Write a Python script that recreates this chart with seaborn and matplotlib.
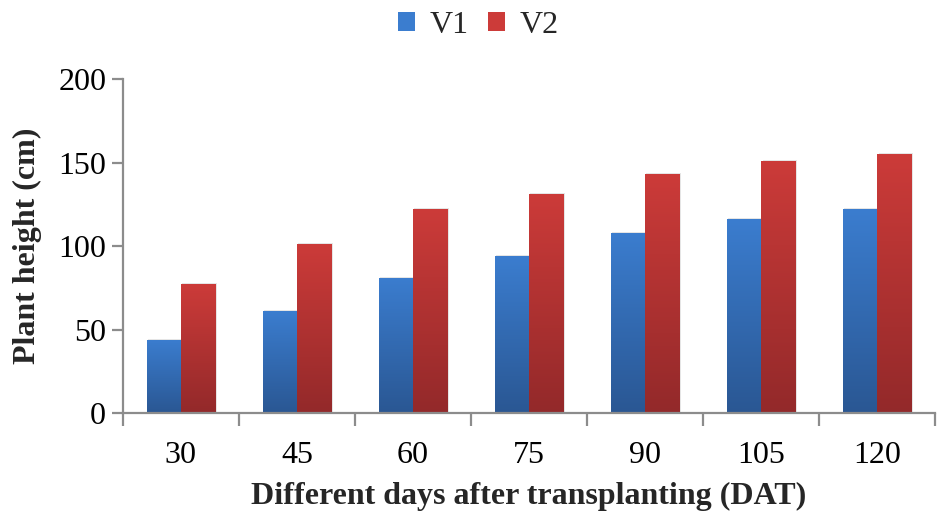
import numpy as np
import pandas as pd
import matplotlib
matplotlib.use("Agg")
import matplotlib.pyplot as plt
import seaborn as sns
from matplotlib.patches import Patch
from matplotlib.colors import LinearSegmentedColormap

days = ["30", "45", "60", "75", "90", "105", "120"]
v1 = [44, 61, 81, 94, 108, 116, 122]
v2 = [77, 101, 122, 131, 143, 151, 155]
series = ["V1", "V2"]
yticks = [0, 50, 100, 150, 200]

df = pd.DataFrame({
    "day": days * 2,
    "height": v1 + v2,
    "variety": ["V1"] * len(days) + ["V2"] * len(days),
})

sns.set_theme(style="white")
plt.rcParams["font.family"] = ["Liberation Serif", "DejaVu Serif"]

top_col = {"V1": "#3b7dcf", "V2": "#cc3b39"}
bot_col = {"V1": "#2a5793", "V2": "#93292a"}
FS = 23

fig = plt.figure(figsize=(9.38, 5.14), dpi=100)
ax = fig.add_axes([0.131, 0.1965, 0.866, 0.6495])

sns.barplot(data=df, x="day", y="height", hue="variety", order=days,
            hue_order=series, palette=top_col, width=0.59, gap=0,
            edgecolor="none", linewidth=0, ax=ax, legend=False)

# vertical gradient fill on each bar
for container, name in zip(ax.containers, series):
    cmap = LinearSegmentedColormap.from_list(name, [bot_col[name], top_col[name]])
    grad = np.linspace(0, 1, 256).reshape(-1, 1)
    for bar in container:
        x0, y0 = bar.get_x(), bar.get_y()
        w, h = bar.get_width(), bar.get_height()
        # soft drop shadow
        ax.add_patch(plt.Rectangle((x0 + 0.012, y0), w, h + 0.6,
                                   facecolor="#000000", alpha=0.10,
                                   edgecolor="none", zorder=1.5))
        bar.set_zorder(2)
        im = ax.imshow(grad, extent=[x0, x0 + w, y0, y0 + h], origin="lower",
                       aspect="auto", cmap=cmap, zorder=2.1)
        im.set_clip_path(bar)

ax.set_xlim(-0.5, len(days) - 0.5)
ax.set_ylim(0, 200)
ax.set_yticks(yticks)
ax.set_yticklabels([str(t) for t in yticks], fontsize=FS)
ax.set_xticks(range(len(days)))
ax.set_xticklabels(days, fontsize=FS)
ax.set_xticks(np.arange(-0.5, len(days), 1.0), minor=True)

spine_c = "#8c8c8c"
for side in ["top", "right"]:
    ax.spines[side].set_visible(False)
for side in ["left", "bottom"]:
    ax.spines[side].set_color(spine_c)
    ax.spines[side].set_linewidth(1.6)

ax.tick_params(axis="y", which="major", length=8, width=1.6, color=spine_c,
               left=True, pad=4, labelcolor="black")
ax.tick_params(axis="x", which="major", length=0, pad=20, labelcolor="black")
ax.tick_params(axis="x", which="minor", length=9, width=1.6, color=spine_c,
               bottom=True)

ax.set_xlabel("Different days after transplanting (DAT)", fontsize=FS,
              fontweight="bold", labelpad=9)
ax.set_ylabel("Plant height (cm)", fontsize=FS, fontweight="bold", labelpad=12)

handles = [Patch(facecolor=top_col[s], edgecolor="none") for s in series]
fig.legend(handles, series, loc="upper center", bbox_to_anchor=(0.51, 1.035),
           ncol=2, frameon=False, fontsize=FS, handlelength=0.55,
           handleheight=0.55, handletextpad=0.45, columnspacing=0.6)

fig.savefig("out.png", dpi=100)
